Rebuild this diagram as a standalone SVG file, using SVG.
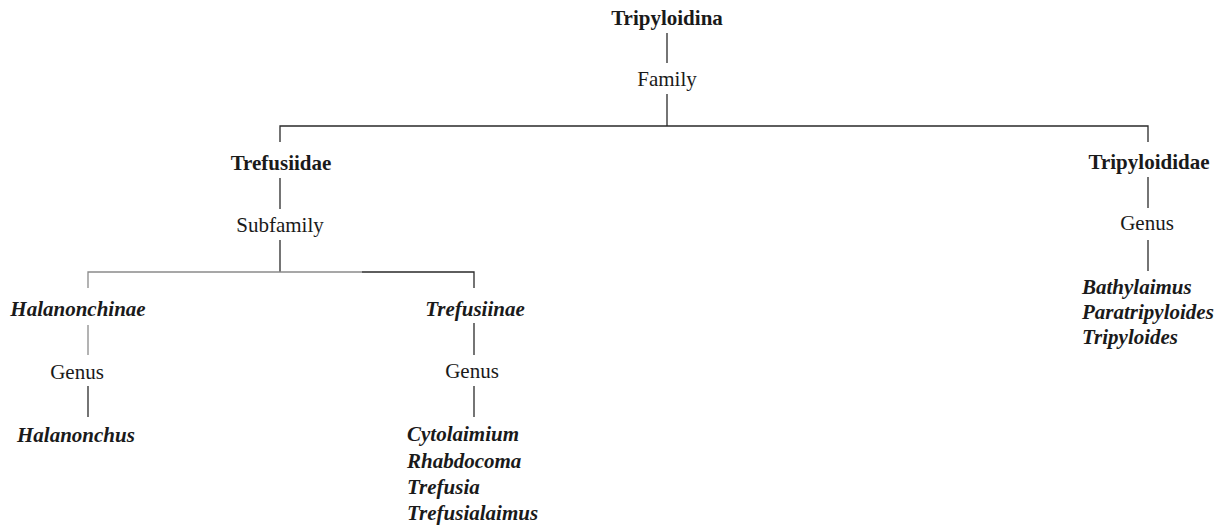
<svg xmlns="http://www.w3.org/2000/svg" width="1222" height="529" viewBox="0 0 1222 529">
<style>
text{font-family:"Liberation Serif","Times New Roman",serif;font-size:21px;fill:#1a1a1a}
.b{font-weight:bold}
.bi{font-weight:bold;font-style:italic}
.c{text-anchor:middle}
.ln{stroke:#2a2a2a;stroke-width:1.3;fill:none}
.lg{stroke:#8a8a8a;stroke-width:1.3;fill:none}
</style>
<rect width="1222" height="529" fill="#ffffff"/>
<g id="connectors">
<line class="ln" x1="667" y1="33" x2="667" y2="63"/>
<line class="ln" x1="667" y1="94" x2="667" y2="126"/>
<polyline class="ln" points="280,142 280,126 1148,126 1148,142"/>
<line class="ln" x1="280" y1="178" x2="280" y2="209"/>
<line class="ln" x1="280" y1="240" x2="280" y2="272"/>
<polyline class="lg" points="88,288 88,272 362,272"/>
<polyline class="ln" points="362,272 474,272 474,288"/>
<line class="lg" x1="88" y1="325" x2="88" y2="355"/>
<line class="ln" x1="88" y1="386" x2="88" y2="417"/>
<line class="ln" x1="474" y1="323" x2="474" y2="355"/>
<line class="ln" x1="474" y1="386" x2="474" y2="417"/>
<line class="ln" x1="1148" y1="177" x2="1148" y2="208"/>
<line class="ln" x1="1148" y1="240" x2="1148" y2="271"/>
</g>
<g id="n-tripyloidina"><text class="b c" x="667" y="25">Tripyloidina</text></g>
<g id="n-family"><text class="c" x="667" y="86">Family</text></g>
<g id="n-trefusiidae"><text class="b c" x="281" y="170">Trefusiidae</text></g>
<g id="n-subfamily"><text class="c" x="280" y="232">Subfamily</text></g>
<g id="n-tripyloididae"><text class="b c" x="1149" y="169">Tripyloididae</text></g>
<g id="n-genus-right"><text class="c" x="1147" y="230">Genus</text></g>
<g id="n-right-genera">
<text class="bi" x="1082" y="294">Bathylaimus</text>
<text class="bi" x="1082" y="319">Paratripyloides</text>
<text class="bi" x="1082" y="344">Tripyloides</text>
</g>
<g id="n-halanonchinae"><text class="bi c" x="78" y="316">Halanonchinae</text></g>
<g id="n-genus-left"><text class="c" x="77" y="379">Genus</text></g>
<g id="n-halanonchus"><text class="bi" x="17" y="442">Halanonchus</text></g>
<g id="n-trefusiinae"><text class="bi c" x="475" y="316">Trefusiinae</text></g>
<g id="n-genus-mid"><text class="c" x="472" y="378">Genus</text></g>
<g id="n-mid-genera">
<text class="bi" x="407" y="441">Cytolaimium</text>
<text class="bi" x="407" y="468">Rhabdocoma</text>
<text class="bi" x="407" y="494">Trefusia</text>
<text class="bi" x="407" y="520">Trefusialaimus</text>
</g>
</svg>
